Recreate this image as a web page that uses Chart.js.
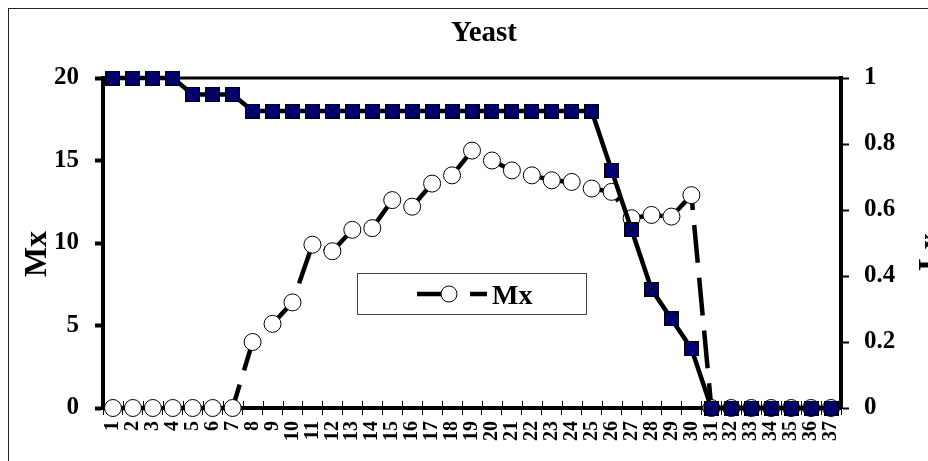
<!DOCTYPE html>
<html>
<head>
<meta charset="utf-8">
<script src="https://cdn.jsdelivr.net/npm/chart.js@4.4.1/dist/chart.umd.min.js"></script>
<style>
  html, body { margin: 0; padding: 0; background: #fff; }
  #wrap  { position: relative; width: 928px; height: 461px; overflow: hidden; }
  #frame { position: absolute; left: 8px; top: 8px; width: 1000px; height: 1000px; border: 1px solid #222; }
  canvas { position: absolute; left: 0; top: 0; }
</style>
</head>
<body>
<div id="wrap"><div id="frame"></div><canvas id="chart" width="928" height="461"></canvas></div>
<script>
/* ── data ── */
const ages = ['1','2','3','4','5','6','7','8','9','10','11','12','13','14','15','16','17','18','19',
              '20','21','22','23','24','25','26','27','28','29','30','31','32','33','34','35','36','37'];
const mx = [0, 0, 0, 0, 0, 0, 0, 4.0, 5.1, 6.4, 9.9, 9.5, 10.8, 10.9, 12.6, 12.2, 13.6, 14.1, 15.6,
            15.0, 14.4, 14.1, 13.8, 13.7, 13.3, 13.1, 11.5, 11.7, 11.6, 12.9, 0, 0, 0, 0, 0, 0, 0];
const lx = [1, 1, 1, 1, 0.95, 0.95, 0.95, 0.9, 0.9, 0.9, 0.9, 0.9, 0.9, 0.9, 0.9, 0.9, 0.9, 0.9, 0.9,
            0.9, 0.9, 0.9, 0.9, 0.9, 0.9, 0.72, 0.54, 0.36, 0.27, 0.18, 0, 0, 0, 0, 0, 0, 0];

const SERIF = '"Liberation Serif", "Times New Roman", serif';
const INK   = '#000';

/* navy square with an X, like the Excel marker */
function squareMarker (size) {
  const c = document.createElement('canvas');
  c.width = c.height = size;
  const g = c.getContext('2d');
  g.fillStyle = '#000080';
  g.fillRect(0, 0, size, size);
  g.strokeStyle = INK; g.lineWidth = 1;
  g.strokeRect(0.5, 0.5, size - 1, size - 1);
  g.beginPath();
  g.moveTo(1, 1); g.lineTo(size - 1, size - 1);
  g.moveTo(size - 1, 1); g.lineTo(1, size - 1);
  g.stroke();
  return c;
}

/* top frame line, inner half of the x ticks, legend box, axis titles */
const extras = {
  id: 'extras',
  beforeDatasetsDraw (chart) {
    const { ctx, chartArea: a, scales: { x } } = chart;
    ctx.save();
    ctx.strokeStyle = INK;
    ctx.lineWidth = 1;
    ctx.beginPath();
    for (let i = 0; i <= ages.length; i++) {
      const px = Math.round(x.getPixelForValue(i - 0.5)) + 0.5;
      ctx.moveTo(px, a.bottom - 7); ctx.lineTo(px, a.bottom);
    }
    ctx.stroke();
    ctx.lineWidth = 3;
    ctx.beginPath();
    ctx.moveTo(a.left, a.top); ctx.lineTo(a.right, a.top);
    ctx.stroke();
    ctx.restore();
  },
  afterDraw (chart) {
    const { ctx } = chart;
    const ds = chart.data.datasets[1];
    ctx.save();
    /* legend */
    ctx.fillStyle = '#fff';
    ctx.fillRect(357, 273, 229, 41);
    ctx.strokeStyle = '#444'; ctx.lineWidth = 1;
    ctx.strokeRect(357.5, 273.5, 229, 41);
    ctx.strokeStyle = INK; ctx.lineWidth = 4.5;
    ctx.setLineDash(ds.borderDash);
    ctx.beginPath(); ctx.moveTo(417, 294); ctx.lineTo(487, 294); ctx.stroke();
    ctx.setLineDash([]);
    ctx.lineWidth = 1; ctx.fillStyle = '#fff';
    ctx.beginPath(); ctx.arc(449, 294, 8, 0, Math.PI * 2); ctx.fill(); ctx.stroke();
    ctx.fillStyle = INK;
    ctx.font = 'bold 28px ' + SERIF;
    ctx.textBaseline = 'alphabetic'; ctx.textAlign = 'left';
    ctx.fillText(ds.label, 492, 304);
    /* axis titles, both read bottom to top; the right one is cut by the edge */
    ctx.font = 'bold 32px ' + SERIF;
    ctx.textAlign = 'center';
    ctx.save();
    ctx.translate(46, 254);
    ctx.rotate(-Math.PI / 2);
    ctx.fillText('Mx', 0, 0);
    ctx.restore();
    ctx.translate(940, 252);
    ctx.rotate(-Math.PI / 2);
    ctx.fillText('Lx', 0, 0);
    ctx.restore();
  }
};

new Chart(document.getElementById('chart'), {
  type: 'line',
  data: {
    labels: ages,
    datasets: [
      {
        label: 'Lx', data: lx, yAxisID: 'y1', order: 0,
        borderColor: INK, borderWidth: 4.5, tension: 0,
        pointStyle: squareMarker(15), pointRadius: 8,
        clip: false
      },
      {
        label: 'Mx', data: mx, yAxisID: 'y', order: 1,
        borderColor: INK, borderWidth: 4.5, borderDash: [38, 15], tension: 0,
        pointStyle: 'circle', pointRadius: 8.5, pointBorderWidth: 1,
        pointBackgroundColor: '#fff', pointBorderColor: INK,
        clip: false
      }
    ]
  },
  options: {
    responsive: false,
    animation: false,
    layout: { padding: { left: 0, right: -40, top: 0, bottom: 0 } },
    plugins: {
      legend: { display: false },
      tooltip: { enabled: false },
      title: {
        display: true, text: 'Yeast', color: INK,
        font: { family: SERIF, size: 29, weight: 'bold' },
        padding: { top: 16.6, bottom: 26.6 }
      }
    },
    scales: {
      x: {
        offset: true,
        border: { color: INK, width: 4 },
        grid: { offset: true, drawOnChartArea: false, color: INK, tickLength: 7, tickWidth: 1 },
        ticks: { color: INK, autoSkip: false, minRotation: 90, maxRotation: 90, padding: 6,
                 font: { family: SERIF, size: 20, weight: 'bold' } },
        afterFit: s => { s.height = 53; }
      },
      y: {
        position: 'left', min: 0, max: 20,
        border: { color: INK, width: 4 },
        grid: { drawOnChartArea: false, color: INK, tickLength: 8, tickWidth: 4 },
        ticks: { stepSize: 5, color: INK, padding: 16,
                 font: { family: SERIF, size: 25, weight: 'bold' } },
        afterFit: s => { s.width = 103; }
      },
      y1: {
        position: 'right', min: 0, max: 1,
        border: { color: INK, width: 4 },
        grid: { drawOnChartArea: false, color: INK, tickLength: 8, tickWidth: 2 },
        ticks: { stepSize: 0.2, color: INK, padding: 15,
                 callback: v => String(+v.toFixed(1)),
                 font: { family: SERIF, size: 25, weight: 'bold' } },
        afterFit: s => { s.width = 127; }
      }
    }
  },
  plugins: [extras]
});
</script>
</body>
</html>
